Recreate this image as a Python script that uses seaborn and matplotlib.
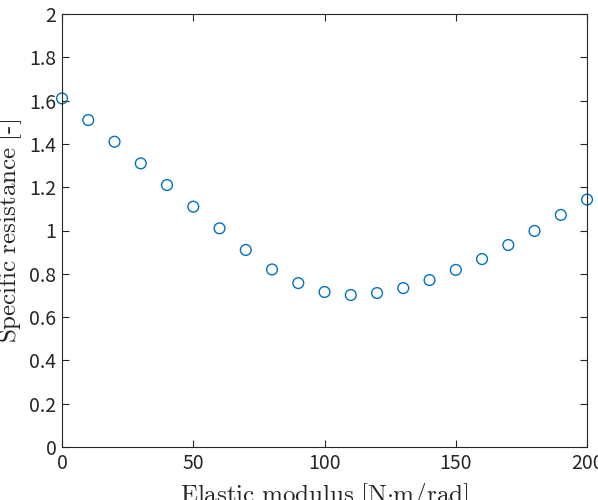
import matplotlib
matplotlib.use('Agg')
import matplotlib.pyplot as plt
import numpy as np
import pandas as pd
import seaborn as sns

# elastic modulus [N m/rad] and specific resistance [-]
modulus = [0, 10, 20, 30, 40, 50, 60, 70, 80, 90, 100,
           110, 120, 130, 140, 150, 160, 170, 180, 190, 200]
resistance = [1.61, 1.51, 1.41, 1.31, 1.21, 1.11, 1.01, 0.91, 0.82, 0.757, 0.716,
              0.702, 0.711, 0.734, 0.771, 0.818, 0.868, 0.933, 0.998, 1.072, 1.143]

df = pd.DataFrame({'modulus': modulus, 'resistance': resistance})

sns.set_style('ticks')
plt.rcParams['font.family'] = ['Noto Sans CJK JP', 'DejaVu Sans']
plt.rcParams['mathtext.fontset'] = 'cm'

fig = plt.figure(figsize=(5.98, 5.0), dpi=100)
ax = fig.add_axes([0.1037, 0.106, 0.878, 0.866])

sns.scatterplot(data=df, x='modulus', y='resistance', ax=ax, marker='o', s=60,
                facecolors='none', edgecolor='#0072BD', linewidth=1.0, clip_on=False)

ax.set_xlim(0, 200)
ax.set_ylim(0, 2)
ax.set_xticks([0, 50, 100, 150, 200])
ax.set_yticks(np.arange(0, 2.01, 0.2))
ax.set_yticklabels(['0', '0.2', '0.4', '0.6', '0.8', '1', '1.2', '1.4', '1.6', '1.8', '2'])

for s in ax.spines.values():
    s.set_color('#262626')
    s.set_linewidth(0.8)
ax.tick_params(direction='in', top=True, right=True, length=5, width=0.8,
               color='#262626', labelsize=14, labelcolor='#262626', pad=4)

ax.set_xlabel(r'$\mathrm{Elastic\ modulus\ [N{\cdot}m/rad]}$', fontsize=18, color='#262626', labelpad=5)
ax.set_ylabel(r'$\mathrm{Specific\ resistance\ [\text{-}]}$', fontsize=18, color='#262626', labelpad=4)

plt.savefig('out.png', dpi=100)
plt.close()
